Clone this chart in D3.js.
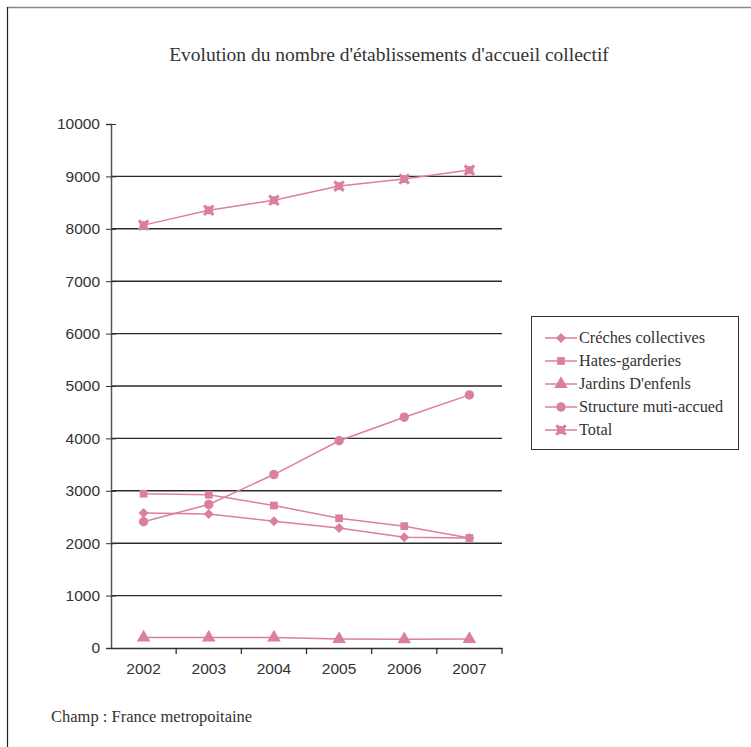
<!DOCTYPE html>
<html>
<head>
<meta charset="utf-8">
<script src="https://cdn.jsdelivr.net/npm/d3@7"></script>
<style>
  body { margin: 0; background: #fff; }
  svg { display: block; }
</style>
</head>
<body>
<div id="chart"></div>
<script>
const width = 751;
const height = 747;

// data
const years = ["2002", "2003", "2004", "2005", "2006", "2007"];
const seriesNames = ["Créches collectives", "Hates-garderies", "Jardins D'enfenls", "Structure muti-accued", "Total"];
const creches = [2575, 2555, 2420, 2290, 2115, 2100];
const hates = [2945, 2925, 2720, 2475, 2325, 2100];
const jardins = [200, 200, 200, 170, 165, 170];
const structure = [2410, 2740, 3310, 3955, 4405, 4830];
const total = [8070, 8355, 8545, 8815, 8950, 9120];
const yTicks = [0, 1000, 2000, 3000, 4000, 5000, 6000, 7000, 8000, 9000, 10000];

const seriesValues = [creches, hates, jardins, structure, total];
const symbols = [d3.symbolSquare, d3.symbolSquare, d3.symbolTriangle, d3.symbolCircle, d3.symbolX];
const symbolSizes = [50, 60, 80, 70, 60];
const symbolRot = [45, 0, 0, 0, 0];

const pink = "#db7fa2";
const margin = { left: 111, right: 249, top: 124, bottom: 99 };
const serif = "'Liberation Serif', 'DejaVu Serif', serif";
const sans = "'Liberation Sans', Arial, sans-serif";

const svg = d3.select("#chart")
  .append("svg")
  .attr("width", width)
  .attr("height", height);

// frame
svg.append("line")
  .attr("x1", 7).attr("x2", width).attr("y1", 7.5).attr("y2", 7.5)
  .attr("stroke", "#888").attr("stroke-width", 1.5);
svg.append("line")
  .attr("x1", 7.5).attr("x2", 7.5).attr("y1", 7).attr("y2", height)
  .attr("stroke", "#222").attr("stroke-width", 1.2);

svg.append("text")
  .attr("x", 389)
  .attr("y", 61)
  .attr("text-anchor", "middle")
  .style("font-family", serif)
  .style("font-size", "19.5px")
  .attr("fill", "#333")
  .text("Evolution du nombre d'établissements d'accueil collectif");

const x = d3.scaleBand()
  .domain(years)
  .range([margin.left, width - margin.right]);

const y = d3.scaleLinear()
  .domain([0, 10000])
  .range([height - margin.bottom, margin.top]);

// gridlines
svg.selectAll(".grid")
  .data(yTicks.filter(d => d > 0 && d < 10000))
  .enter().append("line")
  .attr("class", "grid")
  .attr("x1", margin.left)
  .attr("x2", width - margin.right)
  .attr("y1", d => y(d))
  .attr("y2", d => y(d))
  .attr("stroke", "#2a2a2a")
  .attr("stroke-width", 1.4);

// y axis
const yAxis = d3.axisLeft(y).tickValues(yTicks).tickSize(5).tickPadding(6).tickFormat(d3.format("d"));
const gy = svg.append("g")
  .attr("transform", `translate(${margin.left},0)`)
  .call(yAxis);
gy.select(".domain").attr("stroke", "#555").attr("stroke-width", 1.5);
gy.selectAll(".tick line").attr("stroke", "#333").attr("x2", 5).attr("x1", -5);
gy.selectAll(".tick text")
  .style("font-family", sans)
  .style("font-size", "15.5px")
  .attr("fill", "#333");

// x axis
const xAxis = d3.axisBottom(x).tickSize(0).tickPadding(15);
const gx = svg.append("g")
  .attr("transform", `translate(0,${y(0)})`)
  .call(xAxis);
gx.select(".domain").attr("stroke", "#333").attr("stroke-width", 1.5);
gx.selectAll(".tick text")
  .style("font-family", sans)
  .style("font-size", "15.5px")
  .attr("fill", "#333");
// boundary ticks between categories
gx.selectAll(".bound")
  .data(years)
  .enter().append("line")
  .attr("class", "bound")
  .attr("x1", d => x(d) + x.bandwidth())
  .attr("x2", d => x(d) + x.bandwidth())
  .attr("y1", 0).attr("y2", 6)
  .attr("stroke", "#222").attr("stroke-width", 1.2);

// series
const line = d3.line()
  .x((d, i) => x(years[i]) + x.bandwidth() / 2)
  .y(d => y(d));

function drawMarker(sel, s) {
  sel.append("path")
    .attr("d", d3.symbol().type(symbols[s]).size(symbolSizes[s]))
    .attr("transform", `rotate(${symbolRot[s]})`)
    .attr("fill", s === 4 ? "none" : pink)
    .attr("stroke", pink)
    .attr("stroke-width", s === 4 ? 3 : 0);
  if (s === 4) {
    sel.append("rect")
      .attr("x", -4).attr("y", -4)
      .attr("width", 8).attr("height", 8)
      .attr("fill", pink);
  }
}

seriesValues.forEach((vals, s) => {
  svg.append("path")
    .datum(vals)
    .attr("fill", "none")
    .attr("stroke", pink)
    .attr("stroke-width", 1.5)
    .attr("d", line);

  svg.selectAll(".pt" + s)
    .data(vals)
    .enter().append("g")
    .attr("class", "pt" + s)
    .attr("transform", (d, i) => `translate(${x(years[i]) + x.bandwidth() / 2},${y(d)})`)
    .each(function () { drawMarker(d3.select(this), s); });
});

// legend
const legend = svg.append("g")
  .attr("transform", "translate(531,316)");
legend.append("rect")
  .attr("x", 0.5).attr("y", 0.5)
  .attr("width", 207).attr("height", 133)
  .attr("fill", "#fff")
  .attr("stroke", "#333");

const items = legend.selectAll(".item")
  .data(seriesNames)
  .enter().append("g")
  .attr("class", "item")
  .attr("transform", (d, i) => `translate(0,${22 + i * 23})`);
items.append("line")
  .attr("x1", 14).attr("x2", 46)
  .attr("stroke", pink).attr("stroke-width", 1.5);
items.append("g")
  .attr("transform", "translate(30,0)")
  .each(function (d, i) { drawMarker(d3.select(this), i); });
items.append("text")
  .attr("x", 48)
  .attr("y", 5)
  .style("font-family", serif)
  .style("font-size", "16.3px")
  .attr("fill", "#333")
  .text(d => d);

svg.append("text")
  .attr("x", 51)
  .attr("y", 722)
  .style("font-family", serif)
  .style("font-size", "16.5px")
  .attr("fill", "#333")
  .text("Champ : France metropoitaine");
</script>
</body>
</html>
